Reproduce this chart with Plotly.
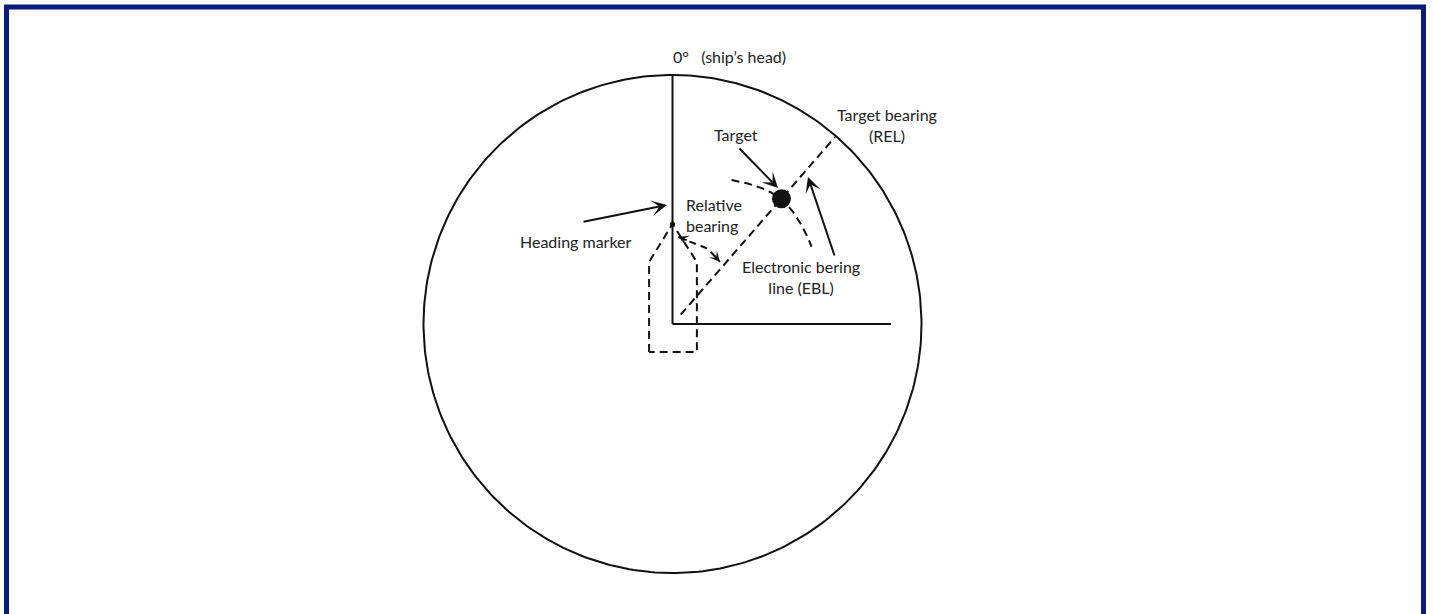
import numpy as np
import plotly.graph_objects as go

# ---------------- data (bearing in degrees from ship's head, range as fraction of display radius)
HEADING_BEARING = 0
HEADING_RANGE = 1.0
BEAM_BEARING = 90
BEAM_RANGE = 0.877
EBL_BEARING = 41
EBL_RANGES = [0.05, 0.995]
TARGET_BEARING = 41
TARGET_RANGE = 0.667
VRM_BEARINGS = [22.3, 34.5, 41.0, 46.3, 53.7, 60.9]
VRM_RANGES = [0.625, 0.656, 0.667, 0.662, 0.651, 0.639]
REL_BEARINGS = [3.8, 12.0, 24.3, 37.3]
REL_RANGES = [0.351, 0.338, 0.333, 0.314]
SHIP_X = [-0.094, -0.094, 0.0, 0.098, 0.098, -0.094]
SHIP_Y = [-0.112, 0.249, 0.402, 0.249, -0.112, -0.112]
HEADING_MARKER = (0.0, 0.402)

# ---------------- geometry helpers
W, H = 1433, 614
CX, CY, RPX = 672.5, 324.0, 249.0


def pol(b, r):
    b = np.radians(np.asarray(b, dtype=float))
    r = np.asarray(r, dtype=float)
    return r * np.sin(b), r * np.cos(b)


def arc_pts(bearings, ranges, n=80):
    bb = np.linspace(bearings[0], bearings[-1], n)
    rr = np.interp(bb, bearings, ranges)
    return pol(bb, rr)


INK = "#111111"
DASH = "8px,5px"
fig = go.Figure()

# display circle
th = np.linspace(0, 360, 361)
cx, cy = pol(th, np.ones_like(th))
fig.add_trace(go.Scatter(x=cx, y=cy, mode="lines", line=dict(color=INK, width=2), hoverinfo="skip"))

# heading line and beam line
hx, hy = pol([HEADING_BEARING, HEADING_BEARING], [0, HEADING_RANGE])
fig.add_trace(go.Scatter(x=hx, y=hy, mode="lines", line=dict(color=INK, width=2), hoverinfo="skip"))
bx, by = pol([BEAM_BEARING, BEAM_BEARING], [0, BEAM_RANGE])
fig.add_trace(go.Scatter(x=bx, y=by, mode="lines", line=dict(color=INK, width=2), hoverinfo="skip"))

# ship outline (dashed)
fig.add_trace(go.Scatter(x=SHIP_X, y=SHIP_Y, mode="lines", line=dict(color=INK, width=2, dash=DASH), hoverinfo="skip"))
fig.add_trace(go.Scatter(x=[HEADING_MARKER[0]], y=[HEADING_MARKER[1]], mode="markers",
                         marker=dict(color=INK, size=5), hoverinfo="skip"))

# EBL
ex, ey = pol([EBL_BEARING, EBL_BEARING], EBL_RANGES)
fig.add_trace(go.Scatter(x=ex, y=ey, mode="lines", line=dict(color=INK, width=2, dash=DASH), hoverinfo="skip"))

# VRM-like arc through target
vx, vy = arc_pts(VRM_BEARINGS, VRM_RANGES)
fig.add_trace(go.Scatter(x=vx, y=vy, mode="lines", line=dict(color=INK, width=2, dash=DASH), hoverinfo="skip"))

# relative bearing arc
rx, ry = arc_pts(REL_BEARINGS, REL_RANGES)
fig.add_trace(go.Scatter(x=rx, y=ry, mode="lines", line=dict(color=INK, width=2, dash="7px,5px"), hoverinfo="skip"))

# target
tx, ty = pol([TARGET_BEARING], [TARGET_RANGE])
fig.add_trace(go.Scatter(x=tx, y=ty, mode="markers", marker=dict(color=INK, size=19), hoverinfo="skip"))


def px(xp, yp):
    return (xp - CX) / RPX, (CY - yp) / RPX


annotations = []
FONT = dict(family="Lato, Noto Sans, sans-serif", size=16, color="#222222")


def label(text, xp, yp, anchor="center"):
    x, y = px(xp, yp)
    annotations.append(dict(x=x, y=y, xref="x", yref="y", text=text, showarrow=False,
                            xanchor=anchor, yanchor="middle", font=FONT,
                            align="center" if anchor == "center" else "left"))


def arrow(head, tail, size=1.3, width=2):
    hx_, hy_ = px(*head)
    tx_, ty_ = px(*tail)
    annotations.append(dict(x=hx_, y=hy_, ax=tx_, ay=ty_, xref="x", yref="y", axref="x", ayref="y",
                            text="", showarrow=True, arrowhead=3, arrowsize=size, arrowwidth=width,
                            arrowcolor=INK, standoff=0, startstandoff=0))


label("0°   (ship’s head)", 729, 56)
label("Target bearing<br>(REL)", 886.5, 124.5)
label("Target", 735.5, 134)
label("Relative<br>bearing", 684, 215, anchor="left")
label("Heading marker", 575.5, 241)
label("Electronic bering<br>line (EBL)", 801, 277)

arrow((667, 205), (582, 222))
arrow((778, 188), (738, 147))
arrow((808, 177), (835, 257))

# arrowheads on the relative bearing arc
s0x, s0y = pol(REL_BEARINGS[0], REL_RANGES[0])
s1x, s1y = pol(REL_BEARINGS[0] + 7, np.interp(REL_BEARINGS[0] + 7, REL_BEARINGS, REL_RANGES))
annotations.append(dict(x=float(s0x), y=float(s0y), ax=float(s1x), ay=float(s1y), xref="x", yref="y",
                        axref="x", ayref="y", text="", showarrow=True, arrowhead=3, arrowsize=1.0,
                        arrowwidth=1.8, arrowcolor=INK, standoff=0))
e0x, e0y = pol(REL_BEARINGS[-1], REL_RANGES[-1])
e1x, e1y = pol(REL_BEARINGS[-1] - 7, np.interp(REL_BEARINGS[-1] - 7, REL_BEARINGS, REL_RANGES))
annotations.append(dict(x=float(e0x), y=float(e0y), ax=float(e1x), ay=float(e1y), xref="x", yref="y",
                        axref="x", ayref="y", text="", showarrow=True, arrowhead=3, arrowsize=1.0,
                        arrowwidth=1.8, arrowcolor=INK, standoff=0))

fig.update_layout(
    width=W, height=H,
    margin=dict(l=0, r=0, t=0, b=0),
    paper_bgcolor="white", plot_bgcolor="white",
    showlegend=False,
    xaxis=dict(range=[-CX / RPX, (W - CX) / RPX], visible=False, fixedrange=True),
    yaxis=dict(range=[(CY - H) / RPX, CY / RPX], visible=False, fixedrange=True),
    annotations=annotations,
    shapes=[dict(type="rect", xref="paper", yref="paper",
                 x0=6.5 / W, x1=1423.5 / W, y0=-0.02, y1=1 - 7 / H,
                 line=dict(color="#0b1b7c", width=5), fillcolor="rgba(0,0,0,0)", layer="above")],
)

fig.write_html("out.html", config={"displayModeBar": False},
               post_script="document.body.style.margin='0';document.body.style.overflow='hidden';")
